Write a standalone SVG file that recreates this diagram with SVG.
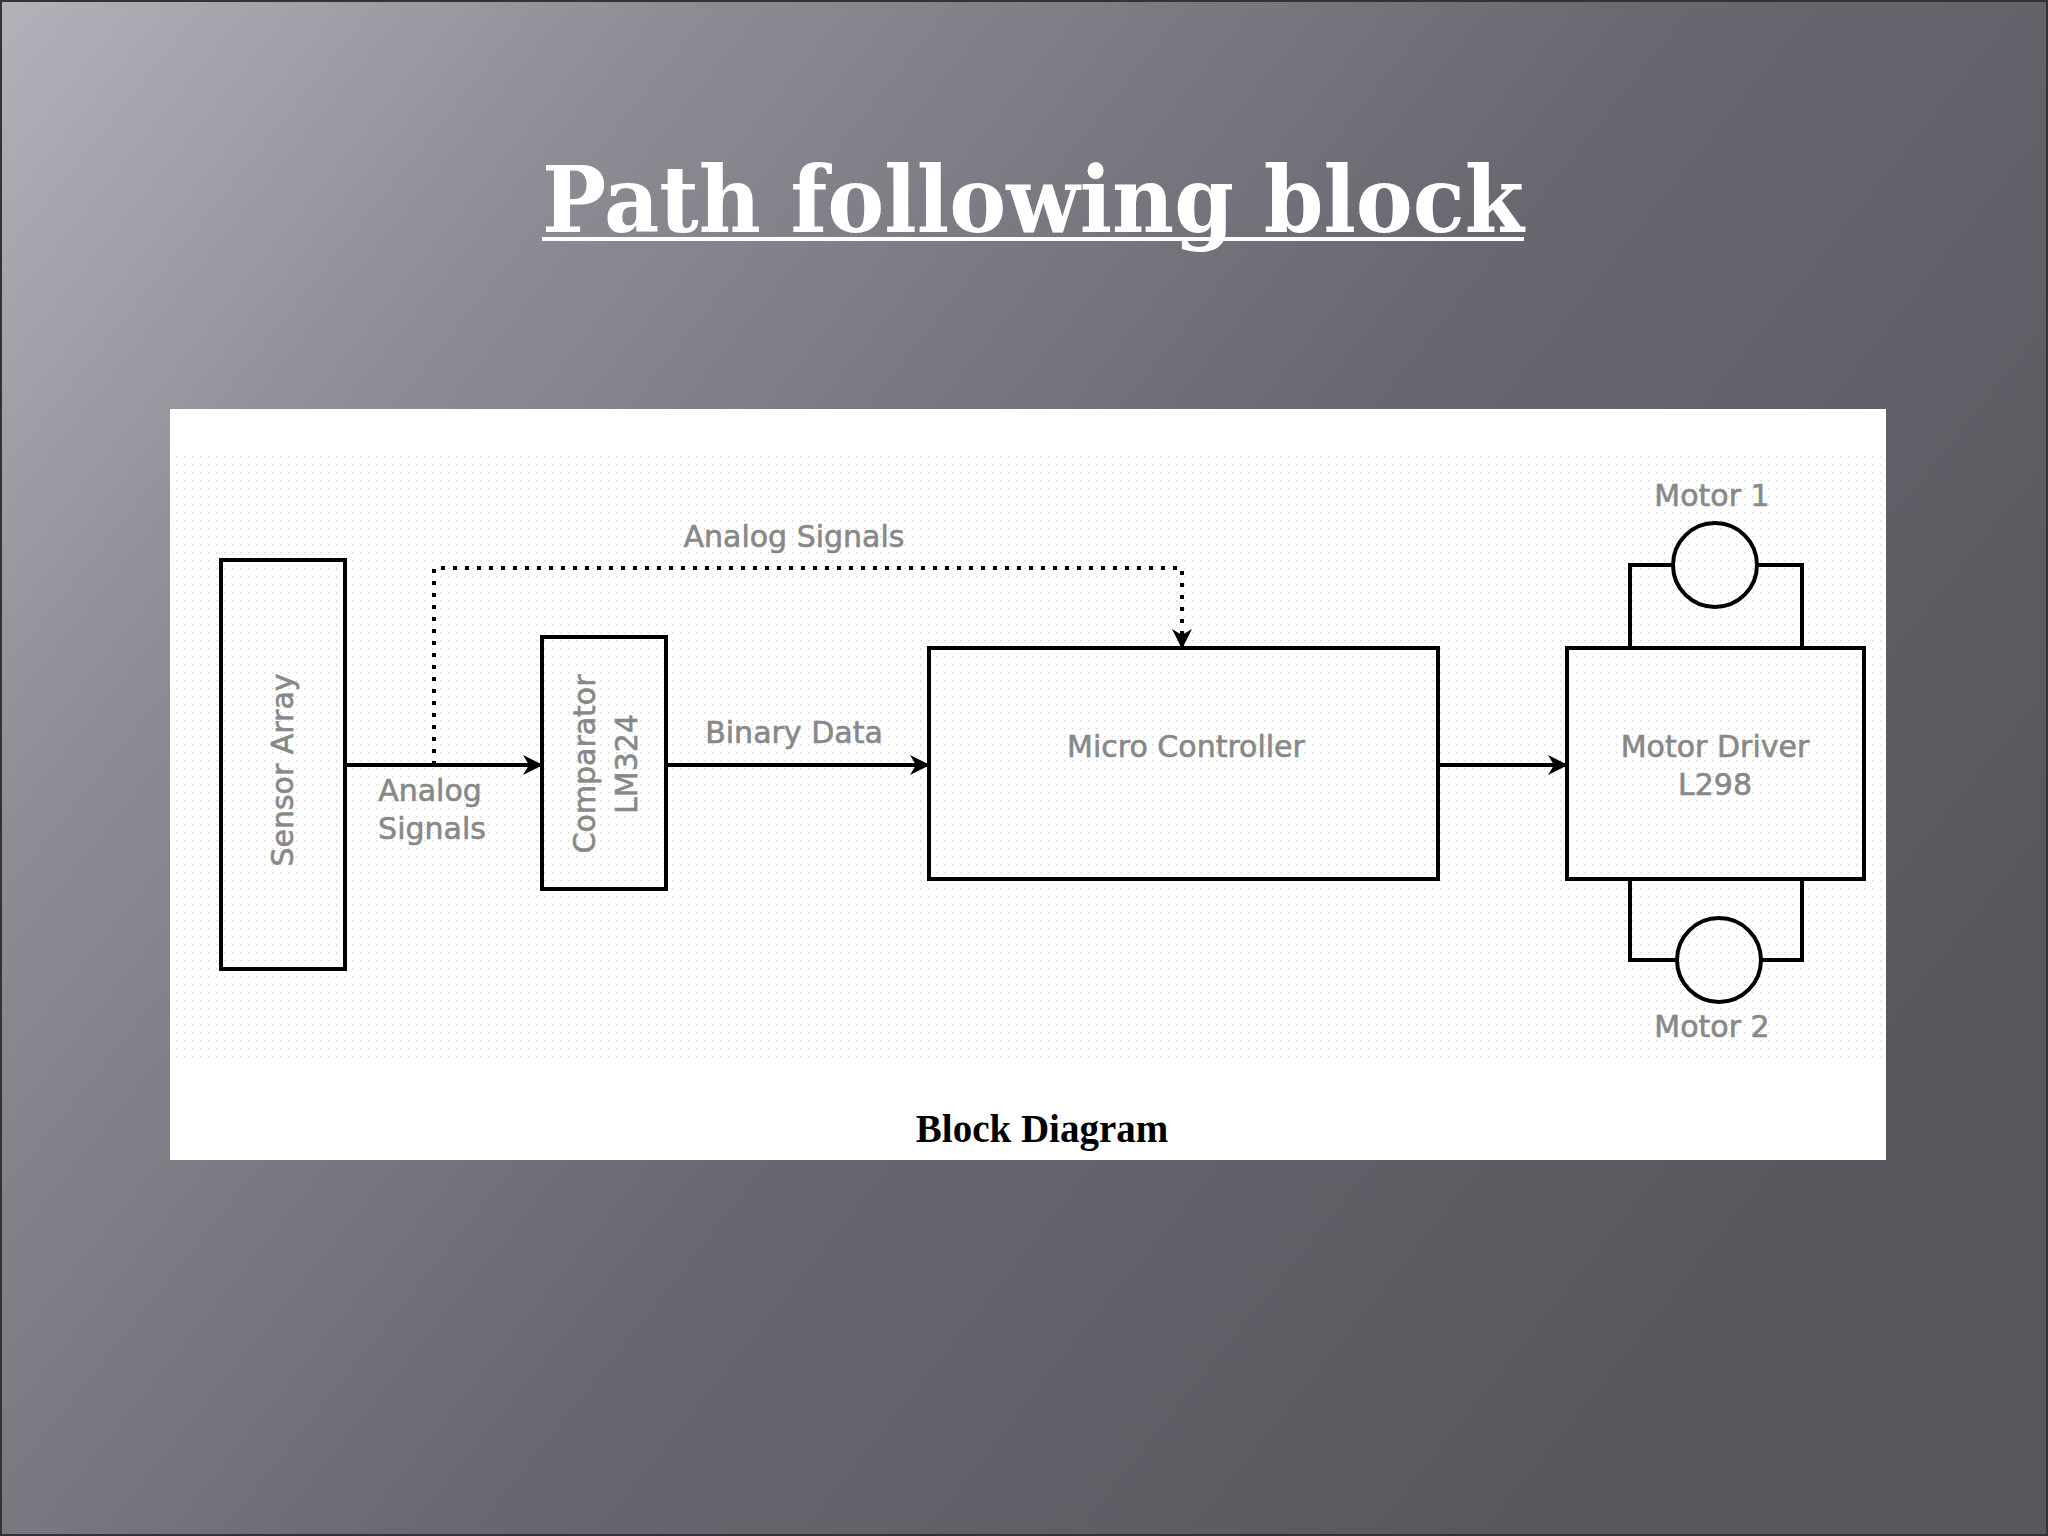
<svg xmlns="http://www.w3.org/2000/svg" width="2048" height="1536" viewBox="0 0 2048 1536">
<defs>
<linearGradient id="bg" x1="0" y1="0" x2="1" y2="0.6">
<stop offset="0" stop-color="#b4b1bb"/><stop offset="0.25" stop-color="#8e8b95"/><stop offset="0.6" stop-color="#6a6770"/><stop offset="1" stop-color="#58565d"/>
</linearGradient>
<pattern id="dots" width="8" height="8" patternUnits="userSpaceOnUse"><rect width="1.5" height="1.5" fill="#d6dbd6"/></pattern>
<marker id="ar" viewBox="0 0 20 20" refX="19" refY="10" markerWidth="20" markerHeight="20" markerUnits="userSpaceOnUse" orient="auto"><path d="M0,0 L20,10 L0,20 L6,10 Z" fill="#000"/></marker>
<style>
.b{fill:none;stroke:#000;stroke-width:4}
.l{fill:none;stroke:#000;stroke-width:4}
.t{font-family:"DejaVu Sans",sans-serif;font-size:30px;fill:#888;stroke:#888;stroke-width:0.6;text-anchor:middle}
</style>
</defs>
<rect width="2048" height="1536" fill="url(#bg)"/>
<rect x="1" y="1" width="2046" height="1534" fill="none" stroke="#333" stroke-width="2"/>
<text x="542" y="232" font-family="DejaVu Serif,serif" font-weight="bold" font-size="92" fill="#fff" textLength="982" lengthAdjust="spacingAndGlyphs">Path following block</text>
<rect x="542" y="237" width="982" height="4" fill="#fff"/>
<rect x="170" y="409" width="1716" height="751" fill="#fff"/>
<rect x="176" y="451" width="1705" height="607" fill="url(#dots)"/>
<g id="connectors">
<path class="l" d="M345,765 H542" marker-end="url(#ar)"/>
<path class="l" d="M666,765 H929" marker-end="url(#ar)"/>
<path class="l" d="M1438,765 H1567" marker-end="url(#ar)"/>
<path class="l" d="M434,765 V568 H1182 V648" stroke-dasharray="4,8" marker-end="url(#ar)"/>
<path class="l" d="M1630,648 V565 H1673 M1757,565 H1802 V648"/>
<path class="l" d="M1630,879 V960 H1677 M1761,960 H1802 V879"/>
</g>
<g id="sensor"><rect class="b" x="221" y="560" width="124" height="409"/><text class="t" transform="translate(293,770) rotate(-90)">Sensor Array</text></g>
<g id="comparator"><rect class="b" x="542" y="637" width="124" height="252"/><text class="t" transform="translate(595,764) rotate(-90)">Comparator</text><text class="t" transform="translate(637,764) rotate(-90)">LM324</text></g>
<g id="mc"><rect class="b" x="929" y="648" width="509" height="231"/><text class="t" x="1186" y="757">Micro Controller</text></g>
<g id="md"><rect class="b" x="1567" y="648" width="297" height="231"/><text class="t" x="1715" y="757">Motor Driver</text><text class="t" x="1715" y="795">L298</text></g>
<g id="m1"><circle class="b" cx="1715" cy="565" r="42"/><text class="t" x="1712" y="506">Motor 1</text></g>
<g id="m2"><circle class="b" cx="1719" cy="960" r="42"/><text class="t" x="1712" y="1037">Motor 2</text></g>
<g id="labels">
<text class="t" x="794" y="547">Analog Signals</text>
<text class="t" x="430" y="801">Analog</text>
<text class="t" x="432" y="839">Signals</text>
<text class="t" x="794" y="743">Binary Data</text>
</g>
<text x="1042" y="1142" font-family="Liberation Serif,serif" font-weight="bold" font-size="39" fill="#000" text-anchor="middle">Block Diagram</text>
</svg>
